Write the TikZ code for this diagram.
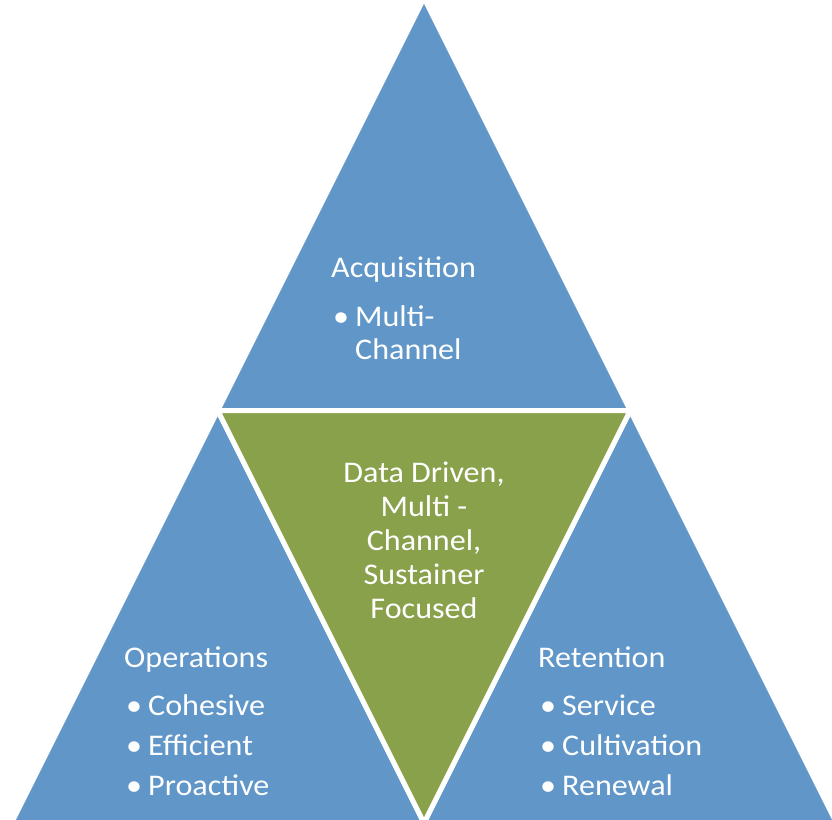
\documentclass[tikz,border=0pt]{standalone}
\usepackage{fontspec}
\setmainfont{Carlito}[FakeStretch=1.07]

\definecolor{pyrblue}{RGB}{96,150,200}
\definecolor{pyrgreen}{RGB}{137,161,75}

\tikzset{
  part/.style={draw=white, line width=5pt, line join=miter},
  txt/.style={text=white, inner sep=0pt, anchor=base west,
    font=\fontsize{30}{34}\selectfont},
  item/.style={txt},
}
\newcommand{\bul}{\makebox[22pt][l]{\textbullet}}

\begin{document}
\begin{tikzpicture}[x=1pt, y=-1pt]
    \useasboundingbox (0,0) rectangle (832,819);

    % corners of the big triangle and the midpoints of its sides
    \coordinate (apex) at (424,-2);
    \coordinate (left) at (11.5,823);
    \coordinate (right) at (836.5,823);
    \coordinate (ml) at (217.75,410.5);
    \coordinate (mr) at (630.25,410.5);
    \coordinate (mb) at (424,823);

    \draw[part, fill=pyrblue] (apex) -- (ml) -- (mr) -- cycle;
    \draw[part, fill=pyrblue] (ml) -- (left) -- (mb) -- cycle;
    \draw[part, fill=pyrblue] (mr) -- (mb) -- (right) -- cycle;
    \draw[part, fill=pyrgreen] (ml) -- (mr) -- (mb) -- cycle;

    % top
    \node[txt] (acq) at (331,277) {Acquisition};
    \node[item] (acq1) at (333,326) {\bul Multi-};
    \node[txt] (acq2) at (355,359) {Channel};

    % bottom left
    \node[txt] (ops) at (124,667) {Operations};
    \node[item] (ops1) at (126,715) {\bul Cohesive};
    \node[item] (ops2) at (126,755) {\bul Efficient};
    \node[item] (ops3) at (126,795) {\bul Proactive};

    % bottom right
    \node[txt] (ret) at (538,667) {Retention};
    \node[item] (ret1) at (540,715) {\bul Service};
    \node[item] (ret2) at (540,755) {\bul Cultivation};
    \node[item] (ret3) at (540,795) {\bul Renewal};

    % centre
    \node[txt, anchor=center, align=center] (core) at (424,540)
        {Data Driven,\\Multi -\\Channel,\\Sustainer\\Focused};
\end{tikzpicture}
\end{document}
